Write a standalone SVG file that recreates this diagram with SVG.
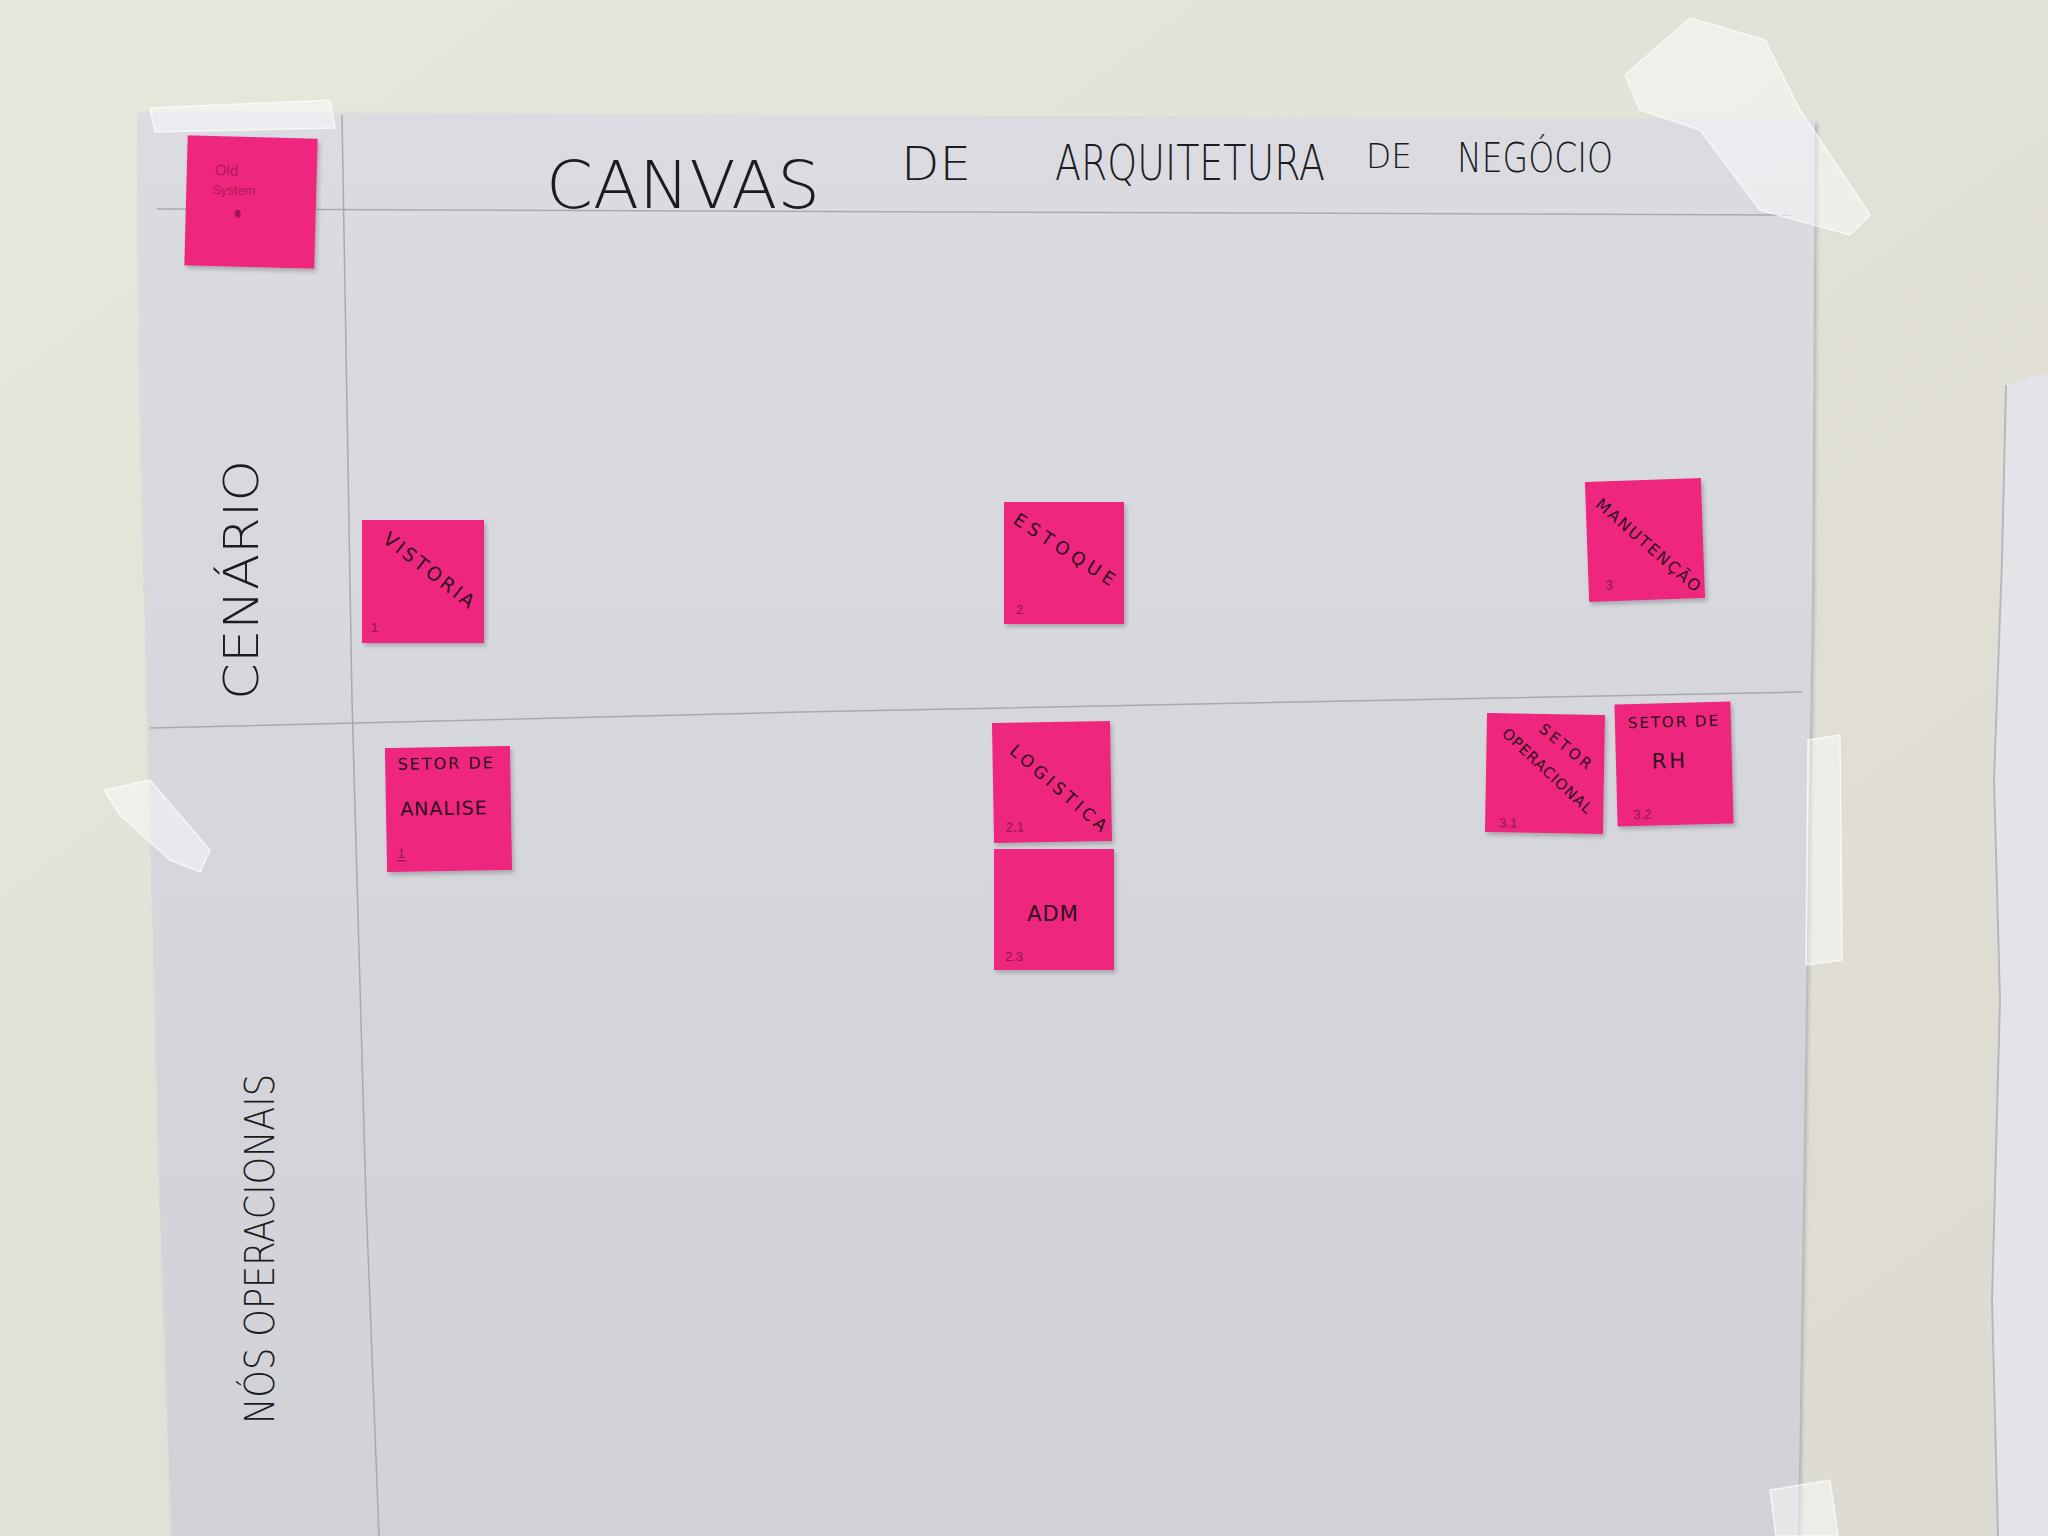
<svg xmlns="http://www.w3.org/2000/svg" width="2048" height="1536" viewBox="0 0 2048 1536">
  <defs>
    <linearGradient id="wall" x1="0" y1="0" x2="1" y2="1">
      <stop offset="0" stop-color="#e8e7dc"/>
      <stop offset="1" stop-color="#dddbd1"/>
    </linearGradient>
    <linearGradient id="paper" x1="0" y1="0" x2="0" y2="1">
      <stop offset="0" stop-color="#dbdce2"/>
      <stop offset="0.5" stop-color="#d6d7dd"/>
      <stop offset="1" stop-color="#d1d2d8"/>
    </linearGradient>
    <filter id="sh" x="-10%" y="-10%" width="130%" height="130%">
      <feDropShadow dx="2" dy="3" stdDeviation="2" flood-color="#6a6a70" flood-opacity="0.45"/>
    </filter>
    <style>
      .note { fill: #ef267d; }
      .hand { font-family: "DejaVu Sans", "Liberation Sans", sans-serif; fill: #2a1020; font-weight: normal; }
      .num { font-family: "Liberation Sans", sans-serif; fill: #8a1850; font-size: 13px; }
      .pen { font-family: "DejaVu Sans", "Liberation Sans", sans-serif; fill: #1c1c1e; font-weight: 200; }
      .line { stroke: #a9a9b0; stroke-width: 1.5; fill: none; }
      .tape { fill: #ffffff; fill-opacity: 0.45; stroke: #ffffff; stroke-opacity: 0.7; stroke-width: 1.5; }
    </style>
  </defs>

  <!-- wall -->
  <rect x="0" y="0" width="2048" height="1536" fill="url(#wall)"/>

  <!-- right neighbouring paper -->
  <path d="M2006,385 L2048,372 L2048,1536 L1998,1536 L1992,1300 L2000,1000 L1994,780 L2002,560 Z" fill="#e4e4e8"/>
  <path d="M2006,385 L2002,560 L1994,780 L2000,1000 L1992,1300 L1998,1536" fill="none" stroke="#b8b8bc" stroke-width="2"/>

  <!-- main paper -->
  <path d="M138,112 L1815,120 L1812,600 L1806,1000 L1798,1536 L172,1536 L160,1200 L150,800 L140,400 Z" fill="url(#paper)" filter="url(#sh)"/>

  <!-- grid lines -->
  <g id="connectors">
    <path class="line" d="M157,209 L1790,215"/>
    <path class="line" d="M342,115 L352,700 L366,1200 L379,1536"/>
    <path class="line" d="M150,728 L800,712 L1802,692"/>
  </g>

  <!-- tape -->
  <path class="tape" d="M1625,75 L1690,18 L1765,40 L1800,110 L1870,215 L1850,235 L1760,210 L1700,130 L1640,110 Z"/>
  <path class="tape" d="M150,108 L330,100 L335,128 L155,132 Z"/>
  <path class="tape" d="M104,790 L150,780 L210,850 L200,872 L170,860 L120,815 Z"/>
  <path class="tape" d="M1808,740 L1840,735 L1842,960 L1806,965 Z"/>
  <path class="tape" d="M1770,1490 L1830,1480 L1838,1536 L1776,1536 Z"/>

  <!-- title -->
  <g id="title" class="pen">
    <text transform="translate(546,208) scale(1,1.15)" font-size="58" textLength="274" lengthAdjust="spacingAndGlyphs">CANVAS</text>
    <text transform="translate(901,180) scale(1,1.2)" font-size="38" textLength="70" lengthAdjust="spacingAndGlyphs">DE</text>
    <text transform="translate(1055,180) scale(1,1.4)" font-size="35" textLength="270" lengthAdjust="spacingAndGlyphs">ARQUITETURA</text>
    <text transform="translate(1366,168) scale(1,1.2)" font-size="28" textLength="46" lengthAdjust="spacingAndGlyphs">DE</text>
    <text transform="translate(1457,172) scale(1,1.35)" font-size="30" textLength="156" lengthAdjust="spacingAndGlyphs">NEGÓCIO</text>
  </g>

  <!-- row labels -->
  <g id="label-cenario" class="pen">
    <text transform="translate(258,700) rotate(-90)" font-size="48" textLength="240" lengthAdjust="spacingAndGlyphs">CENÁRIO</text>
  </g>
  <g id="label-nos" class="pen">
    <text transform="translate(274,1424) rotate(-90)" font-size="40" textLength="350" lengthAdjust="spacingAndGlyphs">NÓS OPERACIONAIS</text>
  </g>

  <!-- sticky notes -->
  <g id="note-old-system" transform="rotate(1.5 250 202)">
    <rect class="note" x="186" y="137" width="130" height="130" filter="url(#sh)"/>
    <text x="214" y="176" font-family="Liberation Sans, sans-serif" font-size="15" fill="#b01a5a">Old</text>
    <text x="212" y="195" font-family="Liberation Sans, sans-serif" font-size="13" fill="#b01a5a">System</text>
    <ellipse cx="238" cy="214" rx="3" ry="4" fill="#a0184f"/>
  </g>

  <g id="note-vistoria">
    <rect class="note" x="362" y="520" width="122" height="123" filter="url(#sh)"/>
    <text class="hand" font-size="19" text-anchor="middle" letter-spacing="3" transform="translate(426,576) rotate(38)">VISTORIA</text>
    <text class="num" x="371" y="632">1</text>
  </g>

  <g id="note-estoque">
    <rect class="note" x="1004" y="502" width="120" height="122" filter="url(#sh)"/>
    <text class="hand" font-size="18" text-anchor="middle" letter-spacing="5" transform="translate(1063,556) rotate(33)">ESTOQUE</text>
    <text class="num" x="1016" y="614">2</text>
  </g>

  <g id="note-manutencao" transform="rotate(-2 1645 540)">
    <rect class="note" x="1587" y="480" width="116" height="120" filter="url(#sh)"/>
    <text class="hand" font-size="16" text-anchor="middle" letter-spacing="2" transform="translate(1645,550) rotate(43)">MANUTENÇÃO</text>
    <text class="num" x="1604" y="588">3</text>
  </g>

  <g id="note-setor-analise" transform="rotate(-1 448 809)">
    <rect class="note" x="386" y="747" width="125" height="124" filter="url(#sh)"/>
    <text class="hand" font-size="16" text-anchor="middle" letter-spacing="2" x="447" y="769">SETOR DE</text>
    <text class="hand" font-size="19" text-anchor="middle" letter-spacing="1" x="444" y="815">ANALISE</text>
    <text class="num" x="397" y="857">1</text>
    <line x1="396" y1="860" x2="406" y2="860" stroke="#8a1850" stroke-width="1.2"/>
  </g>

  <g id="note-logistica" transform="rotate(-1 1052 782)">
    <rect class="note" x="993" y="722" width="118" height="120" filter="url(#sh)"/>
    <text class="hand" font-size="17" text-anchor="middle" letter-spacing="4" transform="translate(1056,794) rotate(42)">LOGISTICA</text>
    <text class="num" x="1005" y="831">2.1</text>
  </g>

  <g id="note-adm">
    <rect class="note" x="994" y="849" width="120" height="121" filter="url(#sh)"/>
    <text class="hand" font-size="21" text-anchor="middle" letter-spacing="1" x="1053" y="921">ADM</text>
    <text class="num" x="1005" y="961">2.3</text>
  </g>

  <g id="note-setor-operacional" transform="rotate(1 1545 773)">
    <rect class="note" x="1486" y="714" width="118" height="119" filter="url(#sh)"/>
    <text class="hand" font-size="15" text-anchor="middle" letter-spacing="3" transform="translate(1563,751) rotate(38)">SETOR</text>
    <text class="hand" font-size="15" text-anchor="middle" letter-spacing="1" transform="translate(1544,775) rotate(42)">OPERACIONAL</text>
    <text class="num" x="1500" y="828" fill="#7a2a80">3.1</text>
  </g>

  <g id="note-setor-rh" transform="rotate(-1.5 1674 764)">
    <rect class="note" x="1616" y="703" width="116" height="122" filter="url(#sh)"/>
    <text class="hand" font-size="15" text-anchor="middle" letter-spacing="2" x="1675" y="727">SETOR DE</text>
    <text class="hand" font-size="21" text-anchor="middle" letter-spacing="3" x="1670" y="768">RH</text>
    <text class="num" x="1632" y="818" fill="#7a2a80">3.2</text>
  </g>
</svg>
